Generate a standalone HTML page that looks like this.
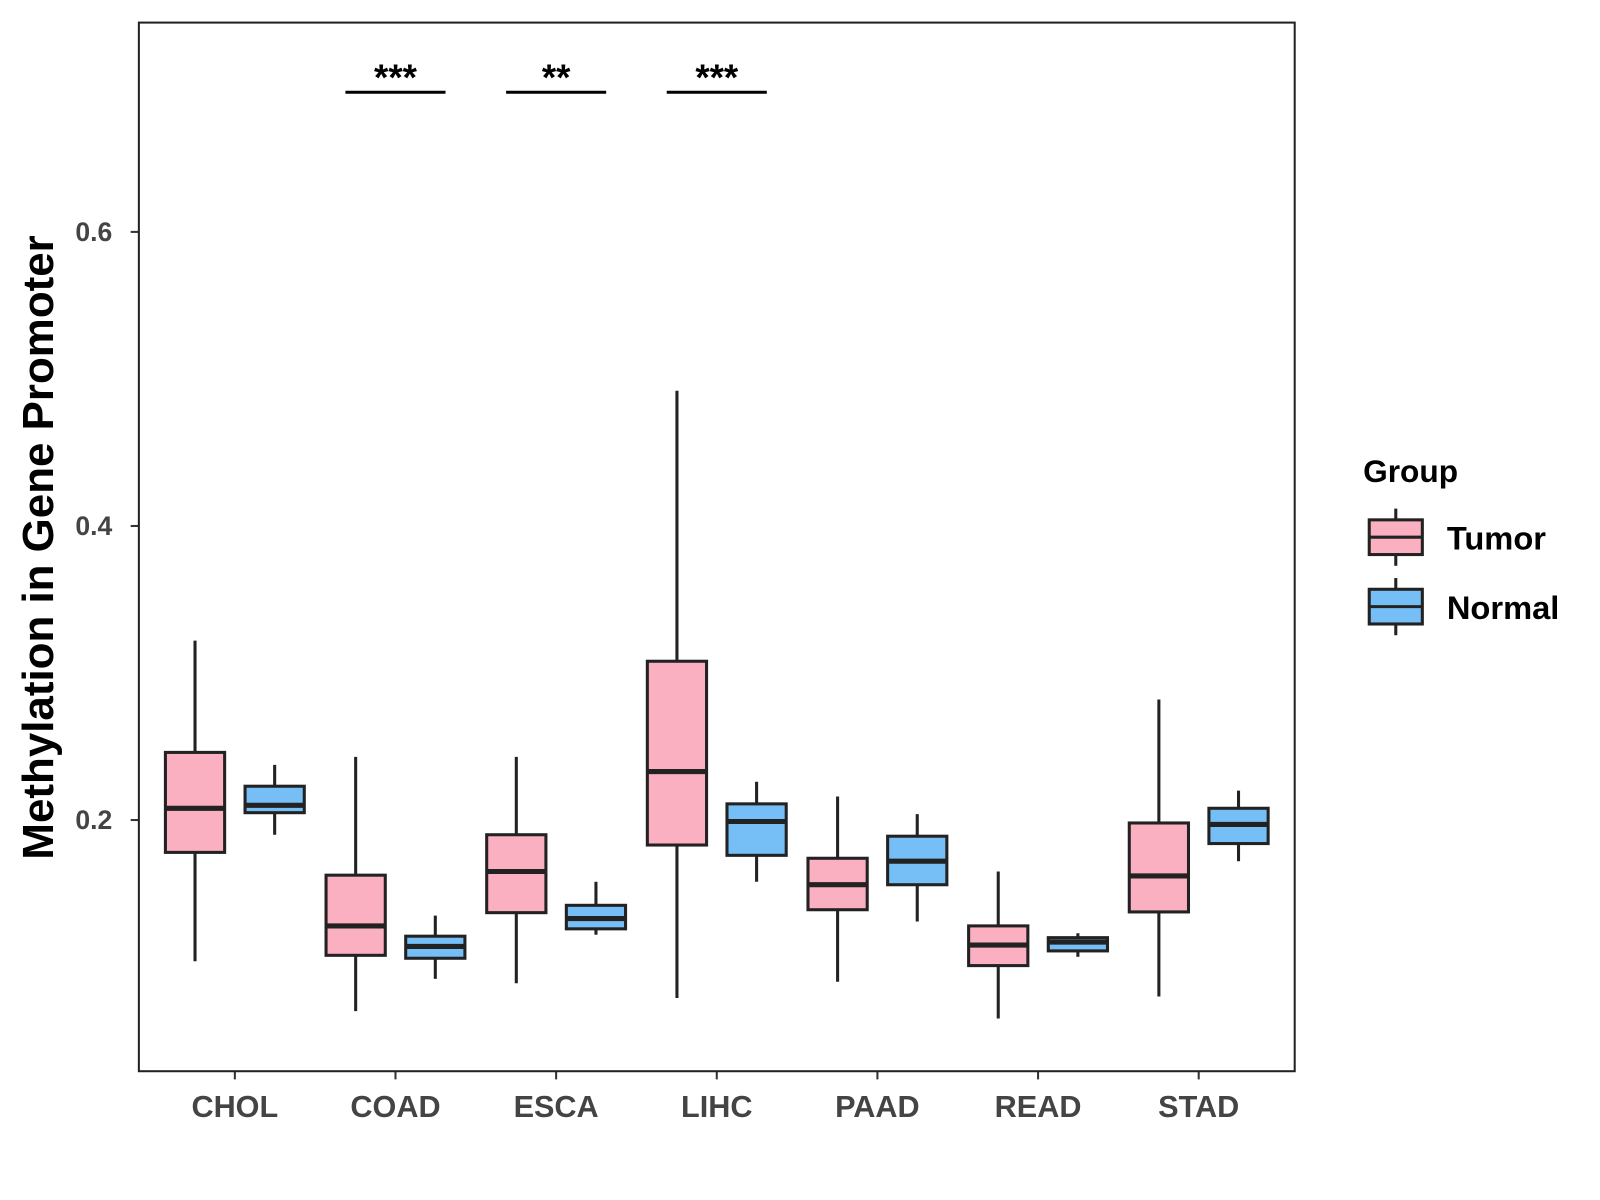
<!DOCTYPE html>
<html><head><meta charset="utf-8"><style>
body{margin:0;background:#fff}
svg{display:block;font-family:"Liberation Sans",Arial,sans-serif;font-weight:bold}
</style></head><body>
<svg id="chart" width="1600" height="1200" viewBox="0 0 1567 1175">
<rect x="0" y="0" width="1567" height="1175" fill="#fff"/>
<g id="plot"></g>
<rect x="136" y="22" width="1132" height="1027" fill="none" stroke="#222" stroke-width="2"/>
<text transform="translate(52,536) rotate(-90)" text-anchor="middle" font-size="43" fill="#000">Methylation in Gene Promoter</text>
<g>
<text x="1335" y="472" font-size="31" fill="#000">Group</text>
<g>
<line x1="1367" y1="498" x2="1367" y2="554" stroke="#222" stroke-width="3"/>
<rect x="1341" y="509" width="52" height="34" fill="#FBB0C1" stroke="#222" stroke-width="3"/>
<line x1="1341" y1="526" x2="1393" y2="526" stroke="#222" stroke-width="3"/>
<text x="1417" y="538" font-size="32" fill="#000">Tumor</text></g>
<g>
<line x1="1367" y1="566" x2="1367" y2="622" stroke="#222" stroke-width="3"/>
<rect x="1341" y="577" width="52" height="34" fill="#76BEF6" stroke="#222" stroke-width="3"/>
<line x1="1341" y1="594" x2="1393" y2="594" stroke="#222" stroke-width="3"/>
<text x="1417" y="606" font-size="32" fill="#000">Normal</text></g>
</g>
</svg>
<script>
const categories=["CHOL","COAD","ESCA","LIHC","PAAD","READ","STAD"];
const tumorLow=[0.104,0.070,0.089,0.079,0.090,0.065,0.080];
const tumorQ1=[0.178,0.108,0.137,0.183,0.139,0.101,0.1375];
const tumorMed=[0.208,0.128,0.165,0.233,0.156,0.115,0.162];
const tumorQ3=[0.246,0.1625,0.190,0.308,0.174,0.128,0.198];
const tumorHigh=[0.322,0.243,0.243,0.492,0.216,0.165,0.282];
const normalLow=[0.190,0.092,0.122,0.158,0.131,0.107,0.172];
const normalQ1=[0.205,0.106,0.126,0.176,0.156,0.111,0.184];
const normalMed=[0.210,0.114,0.133,0.199,0.172,0.117,0.197];
const normalQ3=[0.223,0.121,0.142,0.211,0.189,0.120,0.208];
const normalHigh=[0.2375,0.135,0.158,0.226,0.204,0.123,0.220];
const yTicks=[0.2,0.4,0.6];
const yTickLabels=["0.2","0.4","0.6"];
const sigCategories=["COAD","ESCA","LIHC"];
const sigLabels=["***","**","***"];
const sigLevel=0.695;

const NS="http://www.w3.org/2000/svg";
const g=document.getElementById('plot');
function y(v){return 803-(v-0.2)*1440;}
function x(i){return 230+i*157.33;}
function el(t,a,p){const e=document.createElementNS(NS,t);for(const k in a)e.setAttribute(k,a[k]);(p||g).appendChild(e);return e;}

yTicks.forEach((t,i)=>{
  const tk=el('line',{x1:128,x2:136,y1:y(t),y2:y(t),stroke:'#333','stroke-width':2});
  
  
  const lb=el('text',{x:110,y:y(t)+9,'text-anchor':'end','font-size':26,fill:'#444'});
  lb.textContent=yTickLabels[i];
  
  
});
categories.forEach((c,i)=>{
  const tk=el('line',{x1:x(i),x2:x(i),y1:1049,y2:1057,stroke:'#333','stroke-width':2});
  
  
  const lb=el('text',{x:x(i),y:1094,'text-anchor':'middle','font-size':30,fill:'#444'});
  lb.textContent=c;
  
  
});
function box(cx,lo,q1,md,q3,hi,fill,name){
  const grp=el('g',{});
  
  
  el('line',{x1:cx,x2:cx,y1:y(hi),y2:y(lo),stroke:'#222','stroke-width':3},grp);
  el('rect',{x:cx-29,y:y(q3),width:58,height:y(q1)-y(q3),fill:fill,stroke:'#222','stroke-width':3},grp);
  el('line',{x1:cx-29,x2:cx+29,y1:y(md),y2:y(md),stroke:'#222','stroke-width':5},grp);
}
categories.forEach((c,i)=>{
  box(x(i)-39,tumorLow[i],tumorQ1[i],tumorMed[i],tumorQ3[i],tumorHigh[i],'#FBB0C1','box-tumor-'+c.toLowerCase());
  box(x(i)+39,normalLow[i],normalQ1[i],normalMed[i],normalQ3[i],normalHigh[i],'#76BEF6','box-normal-'+c.toLowerCase());
});
sigCategories.forEach((c,k)=>{
  const i=categories.indexOf(c);
  const ln=el('line',{x1:x(i)-49,x2:x(i)+49,y1:y(sigLevel),y2:y(sigLevel),stroke:'#000','stroke-width':3});
  
  
  const t=el('text',{x:x(i),y:y(sigLevel)-2,'text-anchor':'middle','font-size':36,fill:'#000'});
  t.textContent=sigLabels[k];
  
  
});
</script>
</body></html>
